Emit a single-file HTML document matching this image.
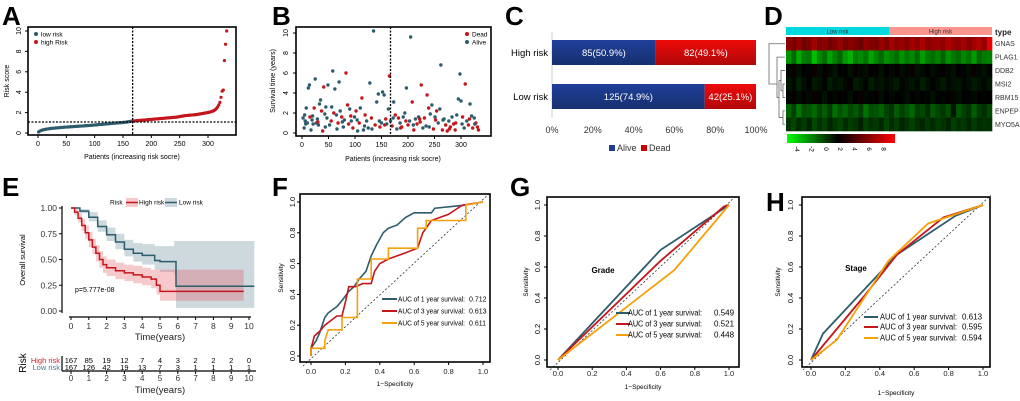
<!DOCTYPE html>
<html><head><meta charset="utf-8"><style>
html,body{margin:0;padding:0;background:#fff;}
svg{display:block;font-family:"Liberation Sans",Arial,sans-serif;}
</style></head><body>
<svg id="fig" width="1020" height="401" viewBox="0 0 1020 401" xmlns="http://www.w3.org/2000/svg">
<defs>
<linearGradient id="gBlue" x1="0" y1="0" x2="0" y2="1"><stop offset="0" stop-color="#1f3f9a"/><stop offset="1" stop-color="#17306e"/></linearGradient>
<linearGradient id="gRed" x1="0" y1="0" x2="0" y2="1"><stop offset="0" stop-color="#ee0a0a"/><stop offset="1" stop-color="#b00808"/></linearGradient>
<linearGradient id="gScale" x1="0" y1="0" x2="1" y2="0"><stop offset="0" stop-color="#00ff00"/><stop offset="0.47" stop-color="#000"/><stop offset="1" stop-color="#ff0000"/></linearGradient>
</defs>
</svg>
<script>
// ---------- DATA ----------
const riskScores=[0.10,0.18,0.24,0.28,0.31,0.34,0.36,0.38,0.40,0.42,0.43,0.45,0.46,0.47,0.48,0.49,0.50,0.51,0.52,0.53,0.54,0.55,0.56,0.57,0.58,0.58,0.59,0.60,0.61,0.62,0.62,0.63,0.64,0.65,0.65,0.66,0.67,0.68,0.68,0.69,0.70,0.71,0.72,0.72,0.73,0.74,0.75,0.76,0.77,0.78,0.79,0.80,0.81,0.82,0.83,0.84,0.85,0.86,0.87,0.88,0.89,0.90,0.91,0.92,0.93,0.94,0.95,0.96,0.97,0.98,0.99,1.00,1.01,1.02,1.03,1.04,1.05,1.06,1.08,1.10,1.12,1.14,1.16,1.17,1.18,1.19,1.20,1.21,1.22,1.23,1.24,1.25,1.26,1.27,1.28,1.29,1.30,1.31,1.32,1.33,1.34,1.35,1.36,1.37,1.38,1.39,1.40,1.41,1.42,1.43,1.44,1.45,1.46,1.47,1.48,1.49,1.50,1.51,1.52,1.53,1.54,1.55,1.56,1.58,1.60,1.62,1.64,1.66,1.68,1.70,1.71,1.72,1.73,1.74,1.75,1.76,1.77,1.78,1.79,1.80,1.82,1.84,1.86,1.88,1.90,1.92,1.94,1.96,1.98,2.00,2.02,2.05,2.08,2.12,2.16,2.22,2.30,2.40,2.55,2.75,3.0,3.5,4.1,4.2,7.1,8.7,10.0];
const riskCutoff=1.08;
const bPatient=[2,4,5,6,8,10,12,14,15,17,19,21,23,25,27,29,31,33,35,37,39,41,43,45,47,49,52,55,58,60,62,65,68,70,72,75,78,80,83,86,88,90,93,96,99,102,105,108,110,113,116,119,122,125,128,131,135,138,141,144,147,150,152,155,158,160,163,165,167,170,173,176,179,182,185,188,191,194,197,200,203,205,208,211,214,217,220,223,225,228,231,234,236,239,242,245,248,251,254,257,260,262,265,268,271,274,277,280,283,286,289,292,295,298,300,303,306,308,311,314,317,320,322,325,328,331,333,7,20,30,44,56,66,76,92,104,118,132,146,156,172,186,196,210,222,240,252,266,278,290,302,316,326];
const bTime=[1.5,0.5,1.8,1.2,2.5,1.0,4.5,4.8,1.6,0.3,1.3,0.9,2.5,5.4,1.0,1.4,0.8,2.9,3.3,2.2,0.2,4.6,1.9,2.6,1.5,4.8,0.8,1.2,6.2,2.0,4.4,1.8,1.0,5.1,2.2,1.6,0.6,1.3,6.0,2.8,0.9,2.4,1.2,0.5,1.6,2.2,0.2,1.0,2.5,3.5,0.3,1.8,1.2,0.5,5.0,1.5,10.2,0.8,3.1,3.9,0.6,1.0,4.1,3.8,1.4,0.9,2.4,5.7,1.2,0.7,3.1,1.8,0.4,1.5,1.0,0.6,1.6,2.0,4.5,0.8,1.2,9.6,3.1,0.3,1.4,0.9,1.6,1.1,4.8,0.5,1.5,0.7,3.8,2.5,1.9,2.8,0.4,1.6,2.2,1.0,2.4,6.8,0.3,1.4,0.8,0.2,1.2,0.6,1.6,0.9,0.3,1.8,3.4,5.9,3.2,1.6,0.5,4.9,1.2,0.8,2.9,1.7,0.5,1.5,1.0,0.6,0.3,0.9,1.7,1.1,0.6,2.6,0.4,1.1,1.7,1.3,0.7,0.4,1.2,0.8,1.5,0.5,1.2,0.8,1.4,0.6,1.3,1.3,0.4,1.0,0.9,1.4,0.9];
const bDead=[0,0,0,0,0,0,0,0,1,0,0,0,1,0,0,0,0,0,0,1,1,1,0,0,0,0,0,1,0,1,0,0,1,0,0,1,0,0,1,1,1,0,0,1,0,1,0,1,0,1,0,1,0,0,0,1,0,1,0,0,1,0,0,0,1,0,0,1,0,1,0,1,0,1,0,1,0,0,0,1,0,0,1,1,0,1,0,1,1,0,1,0,1,1,0,0,1,0,1,0,0,0,1,0,1,1,0,1,0,1,1,0,0,0,0,1,0,1,0,1,0,0,1,0,1,1,1,0,0,1,0,0,0,0,1,0,0,0,0,1,0,1,1,0,1,0,1,0,1,1,0,1,0];
const cGroups=["High risk","Low risk"];
const cAlive=[85,125];
const cDead=[82,42];
const cTicks=[0,20,40,60,80,100];
const hmGenes=["GNAS","PLAG1","DDB2","MSI2","RBM15","ENPEP","MYO5A"];
const hmValues=[
[5.2,4.8,5.5,4.6,5.0,5.8,4.9,5.3,4.7,5.1,5.6,4.8,5.2,5.0,4.5,5.4,5.1,4.9,5.7,5.0,5.9,5.3,5.6,5.1,5.8,5.4,6.0,5.2,5.5,5.7,5.3,6.1,5.6,5.4,5.9,5.2,5.8,6.2,5.5,7.5],
[-1.5,-0.5,-2.0,-1.0,-0.8,-2.5,-1.2,-0.6,-1.8,-1.0,-0.4,-1.6,-2.2,-0.9,-1.3,-0.7,-1.9,-1.1,-0.5,-1.4,-1.0,-0.6,-1.5,-0.8,-1.2,-0.4,-1.7,-0.9,-0.6,-1.1,-0.3,-1.4,-0.8,-0.5,-1.2,-0.7,-1.6,-0.4,-0.9,-1.0],
[1.8,2.2,1.6,2.0,1.9,2.3,1.7,2.1,1.8,1.5,2.0,1.9,1.6,2.2,1.8,1.7,2.1,1.9,1.6,2.0,1.8,2.1,1.7,1.9,2.2,1.6,1.8,2.0,1.7,1.9,2.1,1.8,1.6,2.0,1.9,1.7,2.2,1.8,1.6,1.9],
[1.5,1.8,1.2,1.7,2.0,1.4,1.6,1.9,1.3,1.7,1.5,1.8,2.1,1.4,1.6,1.9,1.3,1.7,1.5,1.8,1.6,1.4,1.9,1.7,1.5,1.8,1.3,1.6,2.0,1.7,1.4,1.8,1.6,1.5,1.9,1.7,1.4,1.6,1.8,1.5],
[1.9,2.1,1.7,2.0,1.8,2.2,1.9,1.6,2.0,1.8,2.1,1.9,1.7,2.0,2.2,1.8,1.9,2.1,1.7,2.0,1.8,2.0,1.9,1.7,2.1,1.8,2.0,1.9,1.6,2.0,1.9,2.1,1.8,1.7,2.0,1.9,1.8,2.1,1.9,2.0],
[-0.3,0.5,-0.8,0.2,0.0,-0.5,0.4,-0.2,0.6,-0.6,0.1,-0.4,0.3,-0.1,0.5,-0.7,0.2,0.0,-0.3,0.4,0.8,-0.2,0.5,0.1,-0.4,0.6,0.3,1.0,-0.1,0.4,0.7,0.2,1.5,0.0,0.5,0.8,-0.2,0.6,0.9,0.3],
[0.8,0.4,1.0,0.6,1.2,0.3,0.9,0.5,1.1,0.7,0.4,1.0,0.6,0.8,1.3,0.5,0.9,0.7,1.1,0.4,1.0,0.6,1.2,0.8,0.5,0.9,1.1,0.7,1.0,0.6,0.8,1.2,0.5,0.9,0.7,1.1,0.6,1.0,0.8,0.9]];
const hmScaleTicks=[-4,-2,0,2,4,6,8];
const kmHighT=[0,0.2,0.4,0.6,0.8,1.0,1.2,1.4,1.6,1.8,2.0,2.5,3.0,3.5,4.0,4.5,4.8,5.0,9.7];
const kmHighS=[1,0.96,0.9,0.83,0.76,0.69,0.62,0.56,0.5,0.45,0.42,0.39,0.37,0.35,0.33,0.31,0.25,0.19,0.19];
const kmHighLo=[1,0.93,0.86,0.78,0.70,0.62,0.55,0.48,0.42,0.37,0.34,0.31,0.29,0.27,0.25,0.22,0.16,0.10,0.10];
const kmHighHi=[1,0.99,0.95,0.89,0.83,0.77,0.70,0.64,0.58,0.53,0.50,0.47,0.45,0.44,0.42,0.40,0.40,0.40,0.40];
const kmLowT=[0,0.5,1.0,1.5,2.0,2.5,3.0,3.5,4.0,4.7,5.0,5.8,5.9,10.3];
const kmLowS=[1,0.97,0.91,0.82,0.74,0.67,0.60,0.56,0.54,0.49,0.48,0.48,0.24,0.24];
const kmLowLo=[1,0.95,0.87,0.77,0.68,0.60,0.53,0.48,0.45,0.40,0.38,0.35,0.03,0.03];
const kmLowHi=[1,0.99,0.96,0.88,0.81,0.75,0.69,0.66,0.65,0.63,0.63,0.68,0.68,0.68];
const kmTicksX=[0,1,2,3,4,5,6,7,8,9,10];
const kmTicksY=[0,0.25,0.5,0.75,1.0];
const atRiskHigh=[167,85,19,12,7,4,3,2,2,2,0];
const atRiskLow=[167,126,42,19,13,7,3,1,1,1,1];
const rocTicks=[0,0.2,0.4,0.6,0.8,1.0];
const f1x=[0,0,0.03,0.05,0.08,0.1,0.15,0.18,0.22,0.25,0.28,0.32,0.35,0.38,0.42,0.45,0.5,0.55,0.6,0.7,0.72,0.9,1];
const f1y=[0,0.05,0.1,0.15,0.25,0.28,0.32,0.36,0.42,0.45,0.5,0.55,0.65,0.72,0.8,0.83,0.85,0.9,0.93,0.93,0.96,0.98,1];
const f3x=[0,0,0.02,0.05,0.08,0.15,0.18,0.2,0.22,0.26,0.3,0.35,0.37,0.4,0.45,0.55,0.62,0.65,0.7,0.8,0.88,1];
const f3y=[0,0.05,0.13,0.16,0.2,0.26,0.26,0.35,0.45,0.45,0.47,0.47,0.55,0.6,0.63,0.67,0.7,0.8,0.88,0.92,0.98,1];
const f5x=[0,0,0.08,0.08,0.1,0.18,0.18,0.27,0.27,0.35,0.35,0.45,0.45,0.62,0.62,0.67,0.67,0.9,0.9,1];
const f5y=[0,0.05,0.05,0.1,0.17,0.17,0.25,0.25,0.5,0.5,0.63,0.63,0.7,0.7,0.83,0.83,0.88,0.88,0.98,1];
const fAuc=["0.712","0.613","0.611"];
const g1x=[0,0.6,1], g1y=[0,0.71,1];
const g3x=[0,0.6,0.97,1], g3y=[0,0.64,0.99,1];
const g5x=[0,0.68,1], g5y=[0,0.58,1];
const gAuc=["0.549","0.521","0.448"];
const h1x=[0,0.07,0.5,0.84,1], h1y=[0,0.17,0.68,0.93,1];
const h3x=[0,0.3,0.5,0.77,1], h3y=[0,0.4,0.68,0.92,1];
const h5x=[0,0.15,0.45,0.68,1], h5y=[0,0.13,0.64,0.88,1];
const hAuc=["0.613","0.595","0.594"];
const rocYears=[1,3,5];

// ---------- HELPERS ----------
const NS='http://www.w3.org/2000/svg';
const svg=document.getElementById('fig');
const TEAL='#2d5c6c', RED='#c4161c', ORANGE='#f5a10a';
function mk(tag,attrs){const e=document.createElementNS(NS,tag);for(const k in attrs)e.setAttribute(k,attrs[k]);svg.appendChild(e);return e;}
function nm(e,n){


return e;}
function T(x,y,s,size,anchor,extra){const e=mk('text',Object.assign({x:x,y:y,'font-size':size,'text-anchor':anchor||'start',fill:'#000'},extra||{}));e.textContent=s;return e;}
function TR(x,y,s,size,rot){const e=T(0,0,s,size,'middle');e.setAttribute('transform','translate('+x+','+y+') rotate('+(rot||-90)+')');return e;}
function L(x1,y1,x2,y2,st,w,extra){return mk('line',Object.assign({x1:x1,y1:y1,x2:x2,y2:y2,stroke:st||'#000','stroke-width':w||1},extra||{}));}
function poly(xs,ys,sx,sy,col,w){const pts=xs.map((v,i)=>sx(v).toFixed(1)+','+sy(ys[i]).toFixed(1)).join(' ');return mk('polyline',{points:pts,fill:'none',stroke:col,'stroke-width':w||1.5});}
function letter(x,y,s){const e=T(x,y,s,26,'start',{'font-weight':'bold'});nm(e,'panel-label-'+s.toLowerCase());}

// ---------- PANEL A ----------
letter(2,25,'A');
const xA=p=>38+p*(170/300), yA=v=>133-v*10.2;
riskScores.forEach((v,i)=>{const p=2*i+1;const c=mk('circle',{cx:xA(p),cy:yA(v),r:1.6,fill:p>167?RED:TEAL});

});
nm(L(xA(167),27,xA(167),135,'#000',1.3,{'stroke-dasharray':'2,1.5'}),'a-cutoff-vline');
nm(L(28,yA(riskCutoff),236,yA(riskCutoff),'#000',1.3,{'stroke-dasharray':'2,1.5'}),'a-cutoff-hline');
nm(mk('rect',{x:28,y:27,width:208,height:108,fill:'none',stroke:'#000','stroke-width':1.6}),'a-plot-frame');
[0,50,100,150,200,250,300].forEach(t=>{L(xA(t),135,xA(t),138);nm(T(xA(t),146,String(t),7,'middle'),'a-x-tick');});
[0,2,4,6,8,10].forEach(t=>{L(25,yA(t),28,yA(t));nm(TR(21,yA(t),String(t),7),'a-y-tick');});
nm(T(132,159,'Patients (increasing risk socre)',7,'middle'),'a-x-axis-title');
nm(TR(9,81,'Risk score',7),'a-y-axis-title');
nm(mk('circle',{cx:36,cy:34,r:2,fill:TEAL}),'a-legend-low-marker');nm(T(41,36.5,'low risk',6.5),'a-legend-low');
nm(mk('circle',{cx:36,cy:42,r:2,fill:RED}),'a-legend-high-marker');nm(T(41,44.5,'high Risk',6.5),'a-legend-high');

// ---------- PANEL B ----------
letter(272,25,'B');
const xB=p=>302+p*(159/300), yB=v=>133-v*10;
bPatient.forEach((p,i)=>{const c=mk('circle',{cx:xB(p),cy:yB(bTime[i]),r:1.7,fill:bDead[i]?RED:TEAL});

});
nm(L(xB(167),27,xB(167),136,'#000',1.3,{'stroke-dasharray':'2,1.5'}),'b-cutoff-vline');
nm(mk('rect',{x:296,y:27,width:195,height:109,fill:'none',stroke:'#000','stroke-width':1.6}),'b-plot-frame');
[0,50,100,150,200,250,300].forEach(t=>{L(xB(t),136,xB(t),139);nm(T(xB(t),147,String(t),7,'middle'),'b-x-tick');});
[0,2,4,6,8,10].forEach(t=>{L(293,yB(t),296,yB(t));nm(TR(288,yB(t),String(t),7),'b-y-tick');});
nm(T(393,161,'Patients (increasing risk socre)',7,'middle'),'b-x-axis-title');
nm(TR(275,81,'Survival time (years)',7),'b-y-axis-title');
nm(mk('circle',{cx:467,cy:34,r:2,fill:RED}),'b-legend-dead-marker');nm(T(472,36.5,'Dead',6.5),'b-legend-dead');
nm(mk('circle',{cx:467,cy:42,r:2,fill:TEAL}),'b-legend-alive-marker');nm(T(472,44.5,'Alive',6.5),'b-legend-alive');

// ---------- PANEL C ----------
letter(505,25,'C');
const xC=f=>552+f*204;
const cY=[40,84];
nm(L(552,32,552,118,'#ccc',1),'c-y-axis');
cGroups.forEach((g,i)=>{const tot=cAlive[i]+cDead[i];const fa=cAlive[i]/tot;
const r1=mk('rect',{x:xC(0),y:cY[i],width:xC(fa)-xC(0),height:25,fill:'url(#gBlue)'});


const r2=mk('rect',{x:xC(fa),y:cY[i],width:xC(1)-xC(fa),height:25,fill:'url(#gRed)'});


const t1=T((xC(0)+xC(fa))/2,cY[i]+16,cAlive[i]+'('+(fa*100).toFixed(1)+'%)',9.5,'middle',{fill:'#fff'});


const t2=T((xC(fa)+xC(1))/2,cY[i]+16,cDead[i]+'('+((1-fa)*100).toFixed(1)+'%)',9.5,'middle',{fill:'#fff'});


const t3=T(548,cY[i]+16,g,9.5,'end');

});
cTicks.forEach(t=>{const e=T(xC(t/100),133,t+'%',9,'middle',{fill:'#333'});

});
nm(mk('rect',{x:609,y:145,width:6,height:6,fill:'#1f3f8a'}),'c-legend-alive-swatch');nm(T(617,151,'Alive',9,'start',{fill:'#333'}),'c-legend-alive');
nm(mk('rect',{x:641,y:145,width:6,height:6,fill:'#c00'}),'c-legend-dead-swatch');nm(T(649,151,'Dead',9,'start',{fill:'#333'}),'c-legend-dead');

// ---------- PANEL D ----------
letter(764,25,'D');
const hmX0=786, hmW=206, hmY0=37, hmH=94;
const cw=hmW/hmValues[0].length, rh=hmH/hmGenes.length;
function hmColor(v){if(v<2){const g=Math.min(255,Math.round(255*(2-v)/6));return 'rgb(0,'+g+',0)';}const r=Math.min(255,Math.round(255*(v-2)/6));return 'rgb('+r+',0,0)';}
nm(mk('rect',{x:hmX0,y:27,width:hmW/2,height:8,fill:'#00d8e0'}),'type-bar-low');
nm(mk('rect',{x:hmX0+hmW/2,y:27,width:hmW/2,height:8,fill:'#f9958c'}),'type-bar-high');
nm(T(hmX0+hmW/4,33.5,'Low risk',6,'middle',{fill:'#333'}),'type-low-label');
nm(T(hmX0+3*hmW/4,33.5,'High risk',6,'middle',{fill:'#333'}),'type-high-label');
nm(T(995,35,'type',8,'start',{'font-weight':'bold','fill':'#222'}),'type-legend-title');
hmValues.forEach((row,r)=>{row.forEach((v,c)=>{const e=mk('rect',{x:(hmX0+c*cw).toFixed(2),y:(hmY0+r*rh).toFixed(2),width:(cw+0.3).toFixed(2),height:(rh+0.3).toFixed(2),fill:hmColor(v)});

});
const t=T(995,hmY0+r*rh+rh/2+2.5,hmGenes[r],7,'start',{fill:'#333'});

});
const rc=i=>hmY0+i*rh+rh/2;
nm(mk('path',{d:'M785,'+rc(3)+'H783V'+rc(4)+'H785 M783,'+((rc(3)+rc(4))/2)+'H781V'+rc(2)+'H785 M785,'+rc(5)+'H783V'+rc(6)+'H785 M781,'+((rc(2)+(rc(3)+rc(4))/2)/2)+'H779V'+((rc(5)+rc(6))/2)+'H783 M779,'+((rc(2)+rc(6))/2)+'H777V'+rc(1)+'H785 M777,'+((rc(1)+rc(5))/2)+'H769V'+rc(0)+'H785',fill:'none',stroke:'#666','stroke-width':0.8}),'dendrogram');
nm(mk('rect',{x:787,y:134,width:108,height:9,fill:'url(#gScale)'}),'color-scale-bar');
hmScaleTicks.forEach(t=>{const e=TR(795+(t+4)*7.2,149,String(t),6.5,90);

});

// ---------- PANEL E ----------
letter(2,196,'E');
const xE=t=>71+t*17.8, yE=s=>311-s*103;
function stepPts(ts,ss){let p=[];ts.forEach((t,i)=>{if(i>0)p.push([xE(t),yE(ss[i-1])]);p.push([xE(t),yE(ss[i])]);});return p;}
function band(ts,lo,hi,col,n){const a=stepPts(ts,hi),b=stepPts(ts,lo).reverse();const e=mk('polygon',{points:a.concat(b).map(q=>q[0].toFixed(1)+','+q[1].toFixed(1)).join(' '),fill:col,'fill-opacity':0.3,stroke:'none'});nm(e,n);}
band(kmLowT,kmLowLo,kmLowHi,'#5a8090','km-low-ci');
band(kmHighT,kmHighLo,kmHighHi,'#e0505a','km-high-ci');
function stepLine(ts,ss,col,n){const e=mk('polyline',{points:stepPts(ts,ss).map(q=>q[0].toFixed(1)+','+q[1].toFixed(1)).join(' '),fill:'none',stroke:col,'stroke-width':1.5});nm(e,n);}
stepLine(kmLowT,kmLowS,TEAL,'km-low-curve');
stepLine(kmHighT,kmHighS,RED,'km-high-curve');
nm(L(62,yE(1)-2,62,yE(0)+2,'#000',1.2),'e-y-axis');
nm(L(xE(0)-2,317,xE(10)+2,317,'#000',1.2),'e-x-axis');
kmTicksY.forEach(t=>{L(59,yE(t),62,yE(t));const e=T(57,yE(t)+3,t.toFixed(2),8.5,'end',{fill:'#333'});

});
kmTicksX.forEach(t=>{L(xE(t),317,xE(t),320);const e=T(xE(t),329,String(t),8.5,'middle',{fill:'#333'});

});
nm(T(160,340,'Time(years)',9.5,'middle',{fill:'#222'}),'e-x-axis-title');
nm(TR(25,260,'Overall survival',7.5),'e-y-axis-title');
nm(T(110,204.5,'Risk',6.5),'e-legend-title');
nm(mk('rect',{x:126,y:198,width:12,height:9,fill:'#e0505a','fill-opacity':0.3}),'e-legend-high-swatch');L(126,202.5,138,202.5,RED,1.5);
nm(T(139,204.5,'High risk',6.5),'e-legend-high');
nm(mk('rect',{x:165,y:198,width:12,height:9,fill:'#5a8090','fill-opacity':0.3}),'e-legend-low-swatch');L(165,202.5,177,202.5,TEAL,1.5);
nm(T(179,204.5,'Low risk',6.5),'e-legend-low');
nm(T(75,292,'p=5.777e-08',7),'e-p-value');
// risk table
nm(L(62,356,62,371,'#000',1.2),'risk-table-y-axis');
nm(L(62,371,256,371,'#000',1.2),'risk-table-x-axis');
nm(T(60,363,'High risk',7.5,'end',{fill:'#d02030'}),'risk-table-high-label');
nm(T(60,370,'Low risk',7.5,'end',{fill:'#4a7890'}),'risk-table-low-label');
nm(TR(26,363,'Risk',10),'risk-table-title');
kmTicksX.forEach((t,i)=>{const a=T(xE(t),363,String(atRiskHigh[i]),7.5,'middle');


const b=T(xE(t),370,String(atRiskLow[i]),7.5,'middle');


L(xE(t),371,xE(t),374);
const c=T(xE(t),381,String(t),8,'middle',{fill:'#333'});

});
nm(T(160,393,'Time(years)',9.5,'middle',{fill:'#222'}),'risk-table-x-axis-title');

// ---------- ROC helper ----------
function rocPanel(key,box,x0,x1,y0,y1,tickY,ylabX,ylab2X,titleY,series,aucs,leg,label){
const sx=f=>x0+f*(x1-x0), sy=s=>y0-s*(y0-y1);
nm(L(sx(0)-8,sy(0)+10,sx(1)+8,sy(1)-10,'#333',0.8,{'stroke-dasharray':'2,2'}),key+'-diagonal');
const cols=[TEAL,RED,ORANGE];
series.forEach((s,i)=>{const p=poly(s[0],s[1],sx,sy,cols[i],key==='f'?1.6:1.8);

});
nm(mk('rect',{x:box[0],y:box[1],width:box[2]-box[0],height:box[3]-box[1],fill:'none',stroke:'#000','stroke-width':1.6}),key+'-plot-frame');
rocTicks.forEach(t=>{L(sx(t),box[3],sx(t),box[3]+3);const a=T(sx(t),tickY,t.toFixed(1),7.5,'middle',{fill:'#222'});


L(box[0]-3,sy(t),box[0],sy(t));const b=TR(ylabX,sy(t),t.toFixed(1),7.5);

});
nm(T((box[0]+box[2])/2,titleY,'1−Specificity',6.5,'middle'),key+'-x-axis-title');
nm(TR(ylab2X,(box[1]+box[3])/2,'Sensitivity',6.5),key+'-y-axis-title');
if(label)nm(T(label[0],label[1],label[2],8,'middle',{'font-weight':'bold'}),key+'-annotation');
aucs.forEach((a,i)=>{const y=leg.y[i];L(leg.lx,y,leg.lx+leg.lw,y,cols[i],2);
const t=T(leg.tx,y+2.7,'AUC of '+rocYears[i]+' year survival:',leg.fs,'start',{textLength:leg.tl,lengthAdjust:'spacingAndGlyphs'});


const v=T(leg.vx,y+2.7,a,leg.fs);

});
}
letter(272,196,'F');
rocPanel('f',[300,194,490,362],311,483,356,202,374,295,283,386,[[f1x,f1y],[f3x,f3y],[f5x,f5y]],fAuc,{lx:382,lw:15,tx:398,vx:469,fs:7,tl:67,y:[299,311,323]},null);
letter(510,196,'G');
rocPanel('g',[547,197,739,367],558,729,360,205,376,540,528,389,[[g1x,g1y],[g3x,g3y],[g5x,g5y]],gAuc,{lx:616,lw:14,tx:628,vx:714,fs:8,tl:74,y:[313,324,335]},[603,273,'Grade']);
letter(766,211,'H');
rocPanel('h',[802,197,990,367],811,983,360,205,376,793,780,395,[[h1x,h1y],[h3x,h3y],[h5x,h5y]],hAuc,{lx:864,lw:14,tx:880,vx:962,fs:8,tl:77,y:[317,327,338]},[856,271,'Stage']);
</script>
</body></html>
